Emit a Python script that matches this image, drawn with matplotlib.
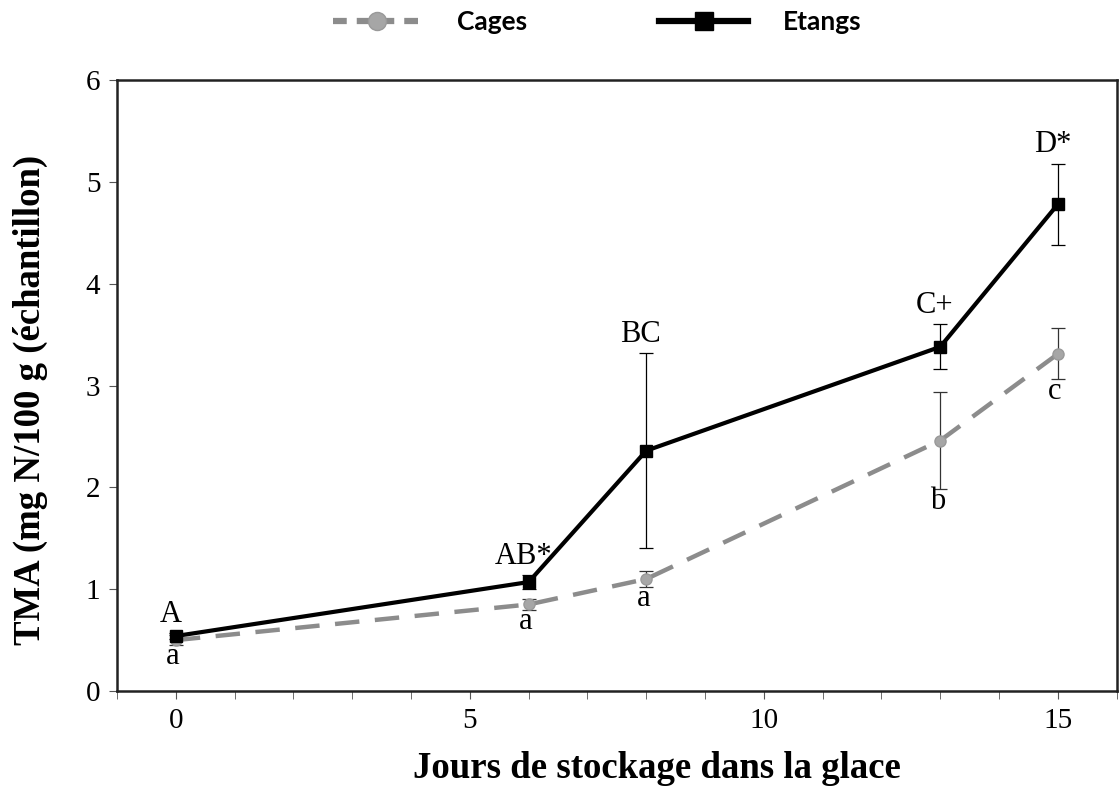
import numpy as np
import matplotlib.pyplot as plt
from matplotlib.lines import Line2D

# jours de stockage dans la glace
jours = [0, 6, 8, 13, 15]

# TMA mesuree (mg N/100 g) et ecart-type
etangs = [0.54, 1.07, 2.36, 3.38, 4.78]
etangs_err = [0.03, 0.07, 0.96, 0.22, 0.40]
etangs_lettres = ['A', 'AB*', 'BC', 'C+', 'D*']

cages = [0.50, 0.85, 1.10, 2.46, 3.31]
cages_err = [0.05, 0.05, 0.08, 0.48, 0.25]
cages_lettres = ['a', 'a', 'a', 'b', 'c']

serif = 'Liberation Serif'

fig = plt.figure(figsize=(11.2, 7.9), dpi=100)
ax = fig.add_axes([0.1045, 0.1253, 0.8925, 0.7734])

# barres d'erreur d'abord, fines et noires
ax.errorbar(jours, etangs, yerr=etangs_err, fmt='none', ecolor='black',
            elinewidth=0.9, capsize=5, capthick=0.9, zorder=2)
ax.errorbar(jours, cages, yerr=cages_err, fmt='none', ecolor='#333333',
            elinewidth=0.9, capsize=5, capthick=0.9, zorder=2)

ax.plot(jours, cages, color='#8c8c8c', lw=3.2, ls=(0, (5.5, 3.5)),
        marker='o', ms=8, mfc='#a6a6a6', mec='#999999', zorder=3)
ax.plot(jours, etangs, color='black', lw=3, marker='s', ms=8, zorder=4)

# lettres de significativite
for x, y, e, t in zip(jours, etangs, etangs_err, etangs_lettres):
    ax.annotate(t, (x, y + e), xytext=(-4, 3), textcoords='offset points',
                ha='center', va='bottom', fontsize=22, family=serif)
for x, y, e, t in zip(jours, cages, cages_err, cages_lettres):
    ax.annotate(t, (x, y - e), xytext=(-2, 2), textcoords='offset points',
                ha='center', va='top', fontsize=22, family=serif)

ax.set_xlim(-1, 16)
ax.set_ylim(0, 6)
ax.set_xticks([0, 5, 10, 15])
ax.set_xticks(np.arange(-1, 17), minor=True)
ax.set_yticks(np.arange(0, 7))
ax.tick_params(axis='both', which='both', direction='out', color='#555555')
ax.tick_params(axis='both', which='major', length=6, labelsize=21, pad=6)
ax.tick_params(axis='x', which='minor', length=6)
for lab in ax.get_xticklabels() + ax.get_yticklabels():
    lab.set_family(serif)
for s in ax.spines.values():
    s.set_linewidth(1.8)
    s.set_color('#222222')

ax.set_xlabel('Jours de stockage dans la glace', fontsize=26.5, family=serif,
              fontweight='bold')
ax.set_ylabel('TMA (mg N/100 g (échantillon)', fontsize=26.5, family=serif,
              fontweight='bold')
ax.xaxis.set_label_coords(0.54, -0.098)
ax.yaxis.set_label_coords(-0.069, 0.476)

# legende en haut, traits plus epais que dans le graphe
h_cages = Line2D([], [], color='#8c8c8c', lw=4.5, ls=(0, (2.2, 1.6)),
                 marker='o', ms=13, mfc='#a6a6a6', mec='#999999')
h_etangs = Line2D([], [], color='black', lw=4.5, marker='s', ms=13)
fig.legend(handles=[h_cages, h_etangs], labels=['Cages', 'Etangs'],
           loc='center', ncol=2, bbox_to_anchor=(0.533, 0.972),
           frameon=False, handlelength=3.4, handletextpad=1.3,
           columnspacing=5.0,
           prop={'family': 'Lato', 'weight': 'bold', 'size': 19})

fig.savefig('out.png', dpi=100)
